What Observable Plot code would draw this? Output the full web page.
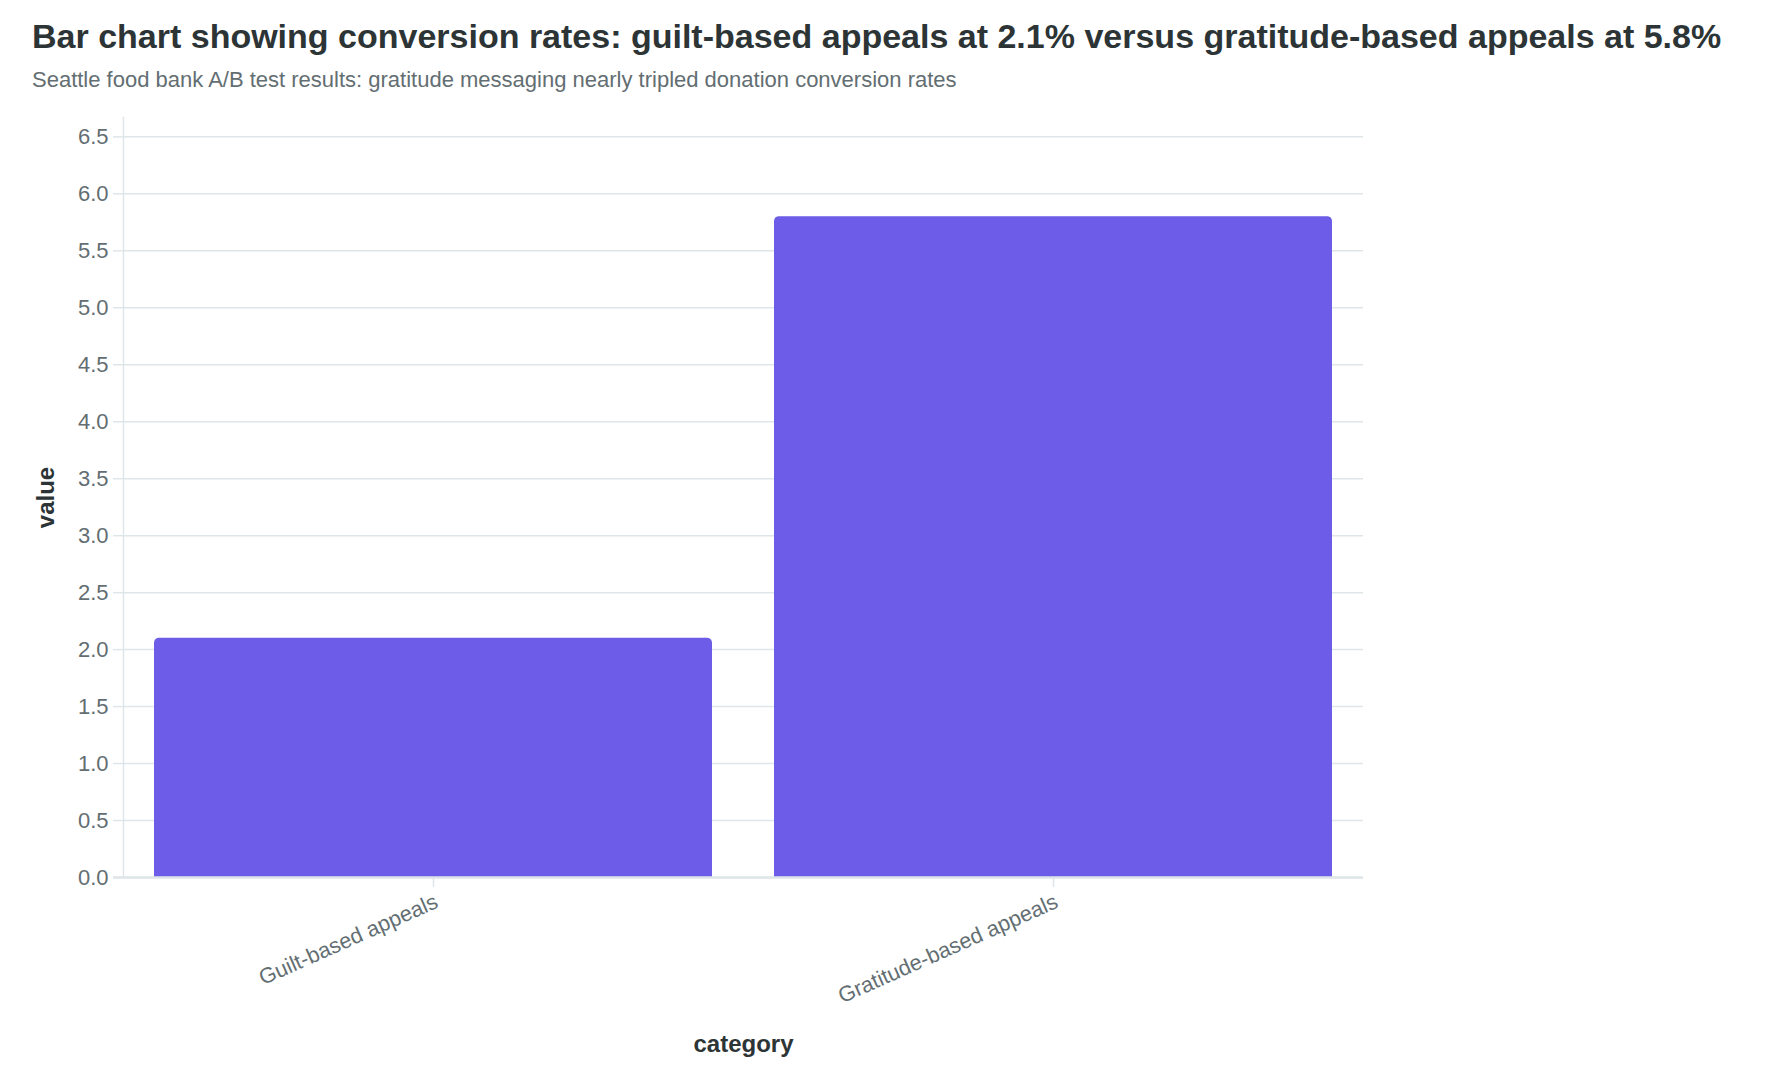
<!DOCTYPE html>
<html>
<head>
<meta charset="utf-8">
<script src="https://cdn.jsdelivr.net/npm/d3@7"></script>
<script src="https://cdn.jsdelivr.net/npm/@observablehq/plot@0.6"></script>
<style>
  html, body { margin: 0; padding: 0; background: #fff; }
  body { width: 1772px; height: 1084px; position: relative; overflow: hidden; font-family: "Liberation Sans", Arial, Helvetica, sans-serif; }
  #title { position: absolute; left: 32px; top: 18.9px; margin: 0; font-size: 34px; line-height: 34px; font-weight: bold; color: #2d3436; white-space: nowrap; }
  #subtitle { position: absolute; left: 32px; top: 68.5px; margin: 0; font-size: 22px; line-height: 22px; color: #636e72; white-space: nowrap; }
  #chart { position: absolute; left: 0; top: 100px; }
  #chart svg { font-family: "Liberation Sans", Arial, Helvetica, sans-serif; }
</style>
</head>
<body>
<h1 id="title">Bar chart showing conversion rates: guilt-based appeals at 2.1% versus gratitude-based appeals at 5.8%</h1>
<p id="subtitle">Seattle food bank A/B test results: gratitude messaging nearly tripled donation conversion rates</p>
<div id="chart"></div>
<script>
const categories = ["Guilt-based appeals", "Gratitude-based appeals"];
const values = [2.1, 5.8];
const yTicks = [0, 0.5, 1, 1.5, 2, 2.5, 3, 3.5, 4, 4.5, 5, 5.5, 6, 6.5];
const xLabel = "category";
const yLabel = "value";

const data = categories.map((c, i) => ({category: c, value: values[i]}));

const gridColor = "#dfe6e9";
const textColor = "#636e72";
const barColor = "#6c5ce7";

const chart = Plot.plot({
  width: 1772,
  height: 984,
  marginTop: 17,
  marginBottom: 207,
  marginLeft: 123,
  marginRight: 409,
  style: {fontFamily: '"Liberation Sans", Arial, sans-serif', background: "#fff"},
  x: {domain: categories, paddingInner: 0.1, paddingOuter: 0.05, label: null},
  y: {domain: [0, 6.67], label: null},
  marks: [
    Plot.gridY(yTicks, {stroke: gridColor, strokeOpacity: 1, strokeWidth: 1.5}),
    Plot.barY(data, {x: "category", y: "value", fill: barColor, rx: 5, insetBottom: -8, clip: true}),
    Plot.frame({anchor: "left", stroke: gridColor, strokeWidth: 1.5}),
    Plot.axisY({ticks: yTicks, tickFormat: d3.format(".1f"), tickSize: 10, tickPadding: 5, stroke: gridColor, strokeWidth: 1.5, fill: textColor, fontSize: 22, label: null}),
    Plot.ruleY([0], {stroke: gridColor, strokeWidth: 2.5, insetLeft: -10}),
    Plot.axisX({tickSize: 10, tickFormat: () => "", stroke: gridColor, strokeWidth: 1.5, label: null}),
    Plot.axisX({tickSize: 0, tickRotate: -24, tickPadding: 23, dx: 3, fill: textColor, fontSize: 21.7, label: null}),
    Plot.text([xLabel], {frameAnchor: "bottom", lineAnchor: "bottom", textAnchor: "middle", dy: 174, fontSize: 24, fontWeight: "bold", fill: "#2d3436"}),
    Plot.text([yLabel], {frameAnchor: "left", lineAnchor: "middle", textAnchor: "middle", rotate: -90, dx: -77, fontSize: 24, fontWeight: "bold", fill: "#2d3436"})
  ]
});
document.getElementById("chart").appendChild(chart);
</script>
</body>
</html>
